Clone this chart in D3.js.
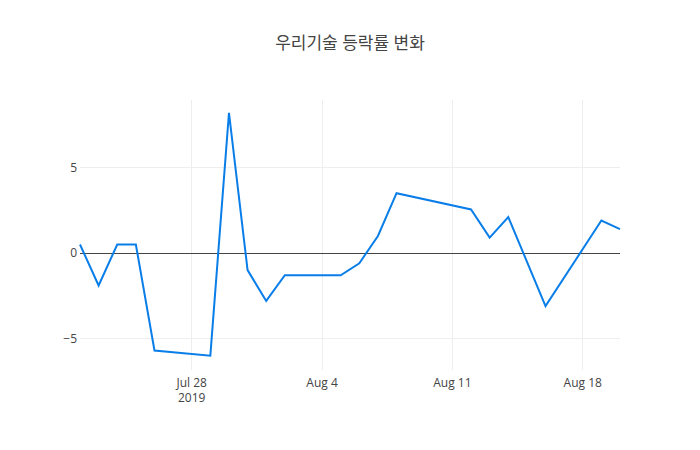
<!DOCTYPE html>
<html><head><meta charset="utf-8">
<script src="https://cdn.jsdelivr.net/npm/d3@7"></script>
<style>body{margin:0;background:#fff;font-family:"Open Sans","Noto Sans CJK KR",sans-serif}</style>
</head><body><div id="chart"></div>
<script>
var dates = ["2019-07-22","2019-07-23","2019-07-24","2019-07-25","2019-07-26","2019-07-29","2019-07-30","2019-07-31","2019-08-01","2019-08-02","2019-08-05","2019-08-06","2019-08-07","2019-08-08","2019-08-12","2019-08-13","2019-08-14","2019-08-16","2019-08-19","2019-08-20"];
var values = [0.5,-1.9,0.5,0.5,-5.7,-6.0,8.2,-1.0,-2.8,-1.3,-1.3,-0.6,1.0,3.5,2.55,0.9,2.1,-3.1,1.9,1.4];
var yTicks = [-5,0,5];
var xTicks = ["2019-07-28","2019-08-04","2019-08-11","2019-08-18"];
var title = "우리기술 등락률 변화";

var width = 700, height = 450;
var margin = {top: 100, right: 80, bottom: 80, left: 80};
var parse = d3.timeParse("%Y-%m-%d");

var svg = d3.select("#chart").append("svg")
    .attr("width", width).attr("height", height);

var x = d3.scaleTime()
    .domain(d3.extent(dates, parse))
    .range([margin.left, width - margin.right]);
var y = d3.scaleLinear()
    .domain([-6.84, 8.95])
    .range([height - margin.bottom, margin.top]);

// grid
svg.selectAll(".vg").data(xTicks).enter().append("line")
    .attr("x1", d => x(parse(d))).attr("x2", d => x(parse(d)))
    .attr("y1", margin.top).attr("y2", height - margin.bottom)
    .attr("stroke", "#eee").attr("shape-rendering", "crispEdges");
svg.selectAll(".hg").data(yTicks).enter().append("line")
    .attr("x1", margin.left).attr("x2", width - margin.right)
    .attr("y1", d => y(d)).attr("y2", d => y(d))
    .attr("stroke", d => d === 0 ? "#444" : "#eee")
    .attr("shape-rendering", "crispEdges");

// tick labels
svg.selectAll(".yl").data(yTicks).enter().append("text")
    .attr("x", margin.left - 3).attr("y", d => y(d) + 4)
    .attr("text-anchor", "end").attr("font-size", 12).attr("fill", "#444")
    .text(d => d < 0 ? "\u2212" + Math.abs(d) : d);
var fmt = d3.timeFormat("%b %-d");
svg.selectAll(".xl").data(xTicks).enter().append("text")
    .attr("x", d => x(parse(d))).attr("y", height - margin.bottom + 17)
    .attr("text-anchor", "middle").attr("font-size", 12).attr("fill", "#444")
    .text(d => fmt(parse(d)));
svg.append("text")
    .attr("x", x(parse(xTicks[0]))).attr("y", height - margin.bottom + 32)
    .attr("text-anchor", "middle").attr("font-size", 12).attr("fill", "#444")
    .text("2019");

// line
svg.append("path")
    .datum(values)
    .attr("fill", "none").attr("stroke", "#0a7ee8").attr("stroke-width", 2)
    .attr("d", d3.line().x((d, i) => x(parse(dates[i]))).y(d => y(d)));

svg.append("text").attr("x", width / 2).attr("y", 49)
    .attr("text-anchor", "middle").attr("font-size", 17).attr("fill", "#444")
    .text(title);
</script></body></html>
